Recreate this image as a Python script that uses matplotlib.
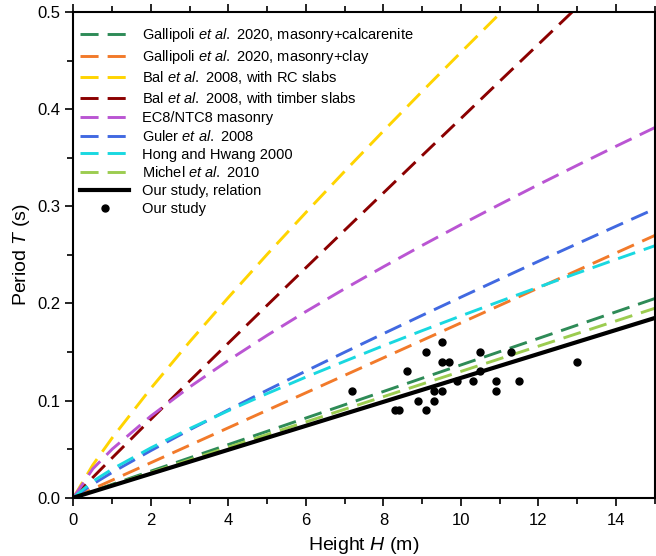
import matplotlib
matplotlib.use("Agg")
import matplotlib.pyplot as plt

plt.rcParams["font.family"] = ["Liberation Sans", "DejaVu Sans"]
plt.rcParams["mathtext.fontset"] = "custom"
plt.rcParams["mathtext.it"] = "Liberation Sans:italic"
plt.rcParams["mathtext.rm"] = "Liberation Sans"

# height grid (m) for the curved relations
heights = [0, 0.5, 1, 2, 3, 4, 5, 6, 7, 8, 9, 10, 11, 12, 13, 14, 15]

bal_rc = [0, 0.0337, 0.0616, 0.1127, 0.1606, 0.2063, 0.2507, 0.2938, 0.3362,
          0.3777, 0.4185, 0.4587, 0.4985, 0.5378, 0.5767, 0.6153, 0.6533]
bal_timber = [0, 0.0208, 0.041, 0.0808, 0.1202, 0.1593, 0.1982, 0.2369, 0.2755,
              0.3139, 0.3524, 0.3906, 0.4289, 0.4670, 0.5052, 0.5433, 0.5810]
ec8 = [0, 0.0297, 0.05, 0.0841, 0.1140, 0.1414, 0.1672, 0.1917, 0.2152,
       0.2378, 0.2598, 0.2812, 0.3020, 0.3224, 0.3423, 0.3619, 0.3811]
guler = [0, 0.0139, 0.026, 0.0485, 0.0699, 0.0905, 0.1107, 0.1304, 0.1498,
         0.1689, 0.1878, 0.2065, 0.2250, 0.2434, 0.2615, 0.2795, 0.2974]
hong = [0, 0.0168, 0.0294, 0.0513, 0.0711, 0.0896, 0.1072, 0.1242, 0.1405,
        0.1565, 0.1720, 0.1872, 0.2021, 0.2168, 0.2312, 0.2454, 0.2594]

# straight relations: value at H = 0 and H = 15
h_lin = [0, 15]
gallipoli_calc = [0, 0.205]
gallipoli_clay = [0, 0.27]
michel = [0, 0.195]
our_rel = [0, 0.185]

# measured buildings
obs_h = [7.2, 8.3, 8.4, 8.6, 8.9, 9.1, 9.1, 9.3, 9.3, 9.5, 9.5, 9.5, 9.7,
         9.9, 10.3, 10.5, 10.5, 10.9, 10.9, 11.3, 11.5, 13.0]
obs_t = [0.11, 0.09, 0.09, 0.13, 0.10, 0.15, 0.09, 0.10, 0.11, 0.11, 0.14,
         0.16, 0.14, 0.12, 0.12, 0.15, 0.13, 0.12, 0.11, 0.15, 0.12, 0.14]

fig = plt.figure(figsize=(6.56, 5.56), dpi=100)
ax = fig.add_axes([0.112, 0.105, 0.886, 0.873])

dash = dict(lw=2.1, dashes=(6.2, 3.1))
ax.plot(h_lin, gallipoli_calc, color="#2e8b57",
        label="Gallipoli $\\it{et\\ al.}$ 2020, masonry+calcarenite", **dash)
ax.plot(h_lin, gallipoli_clay, color="#f27a2a",
        label="Gallipoli $\\it{et\\ al.}$ 2020, masonry+clay", **dash)
ax.plot(heights, bal_rc, color="#ffd400",
        label="Bal $\\it{et\\ al.}$ 2008, with RC slabs", **dash)
ax.plot(heights, bal_timber, color="#8b0000",
        label="Bal $\\it{et\\ al.}$ 2008, with timber slabs", **dash)
ax.plot(heights, ec8, color="#ba55d3", label="EC8/NTC8 masonry", **dash)
ax.plot(heights, guler, color="#4169e1",
        label="Guler $\\it{et\\ al.}$ 2008", **dash)
ax.plot(heights, hong, color="#19d8e0", label="Hong and Hwang 2000", **dash)
ax.plot(h_lin, michel, color="#9ccc50",
        label="Michel $\\it{et\\ al.}$ 2010", **dash)
ax.plot(h_lin, our_rel, color="black", lw=3, label="Our study, relation")
ax.plot(obs_h, obs_t, "o", color="black", ms=5, ls="none", label="Our study")

ax.set_xlim(0, 15)
ax.set_ylim(0, 0.5)
ax.set_xticks(range(0, 15, 2))
ax.set_xticks(range(1, 16, 2), minor=True)
ax.set_yticks([0, 0.1, 0.2, 0.3, 0.4, 0.5])
ax.set_yticks([0.05, 0.15, 0.25, 0.35, 0.45], minor=True)
ax.set_yticklabels(["0.0", "0.1", "0.2", "0.3", "0.4", "0.5"])
ax.tick_params(which="both", direction="out", top=True, labelsize=12,
               width=1.2)
ax.tick_params(which="major", length=6)
ax.tick_params(which="minor", length=4)
ax.tick_params(axis="x", pad=5)
for s in ax.spines.values():
    s.set_linewidth(1.5)

ax.set_xlabel("Height $\\it{H}$ (m)", fontsize=14, labelpad=5)
ax.set_ylabel("Period $\\it{T}$ (s)", fontsize=14)

ax.legend(loc="upper left", bbox_to_anchor=(0.012, 0.972), frameon=False,
          fontsize=10.5, handlelength=3.3, handletextpad=0.95,
          labelspacing=0.26, borderpad=0, borderaxespad=0)

fig.savefig("out.png", dpi=100)
